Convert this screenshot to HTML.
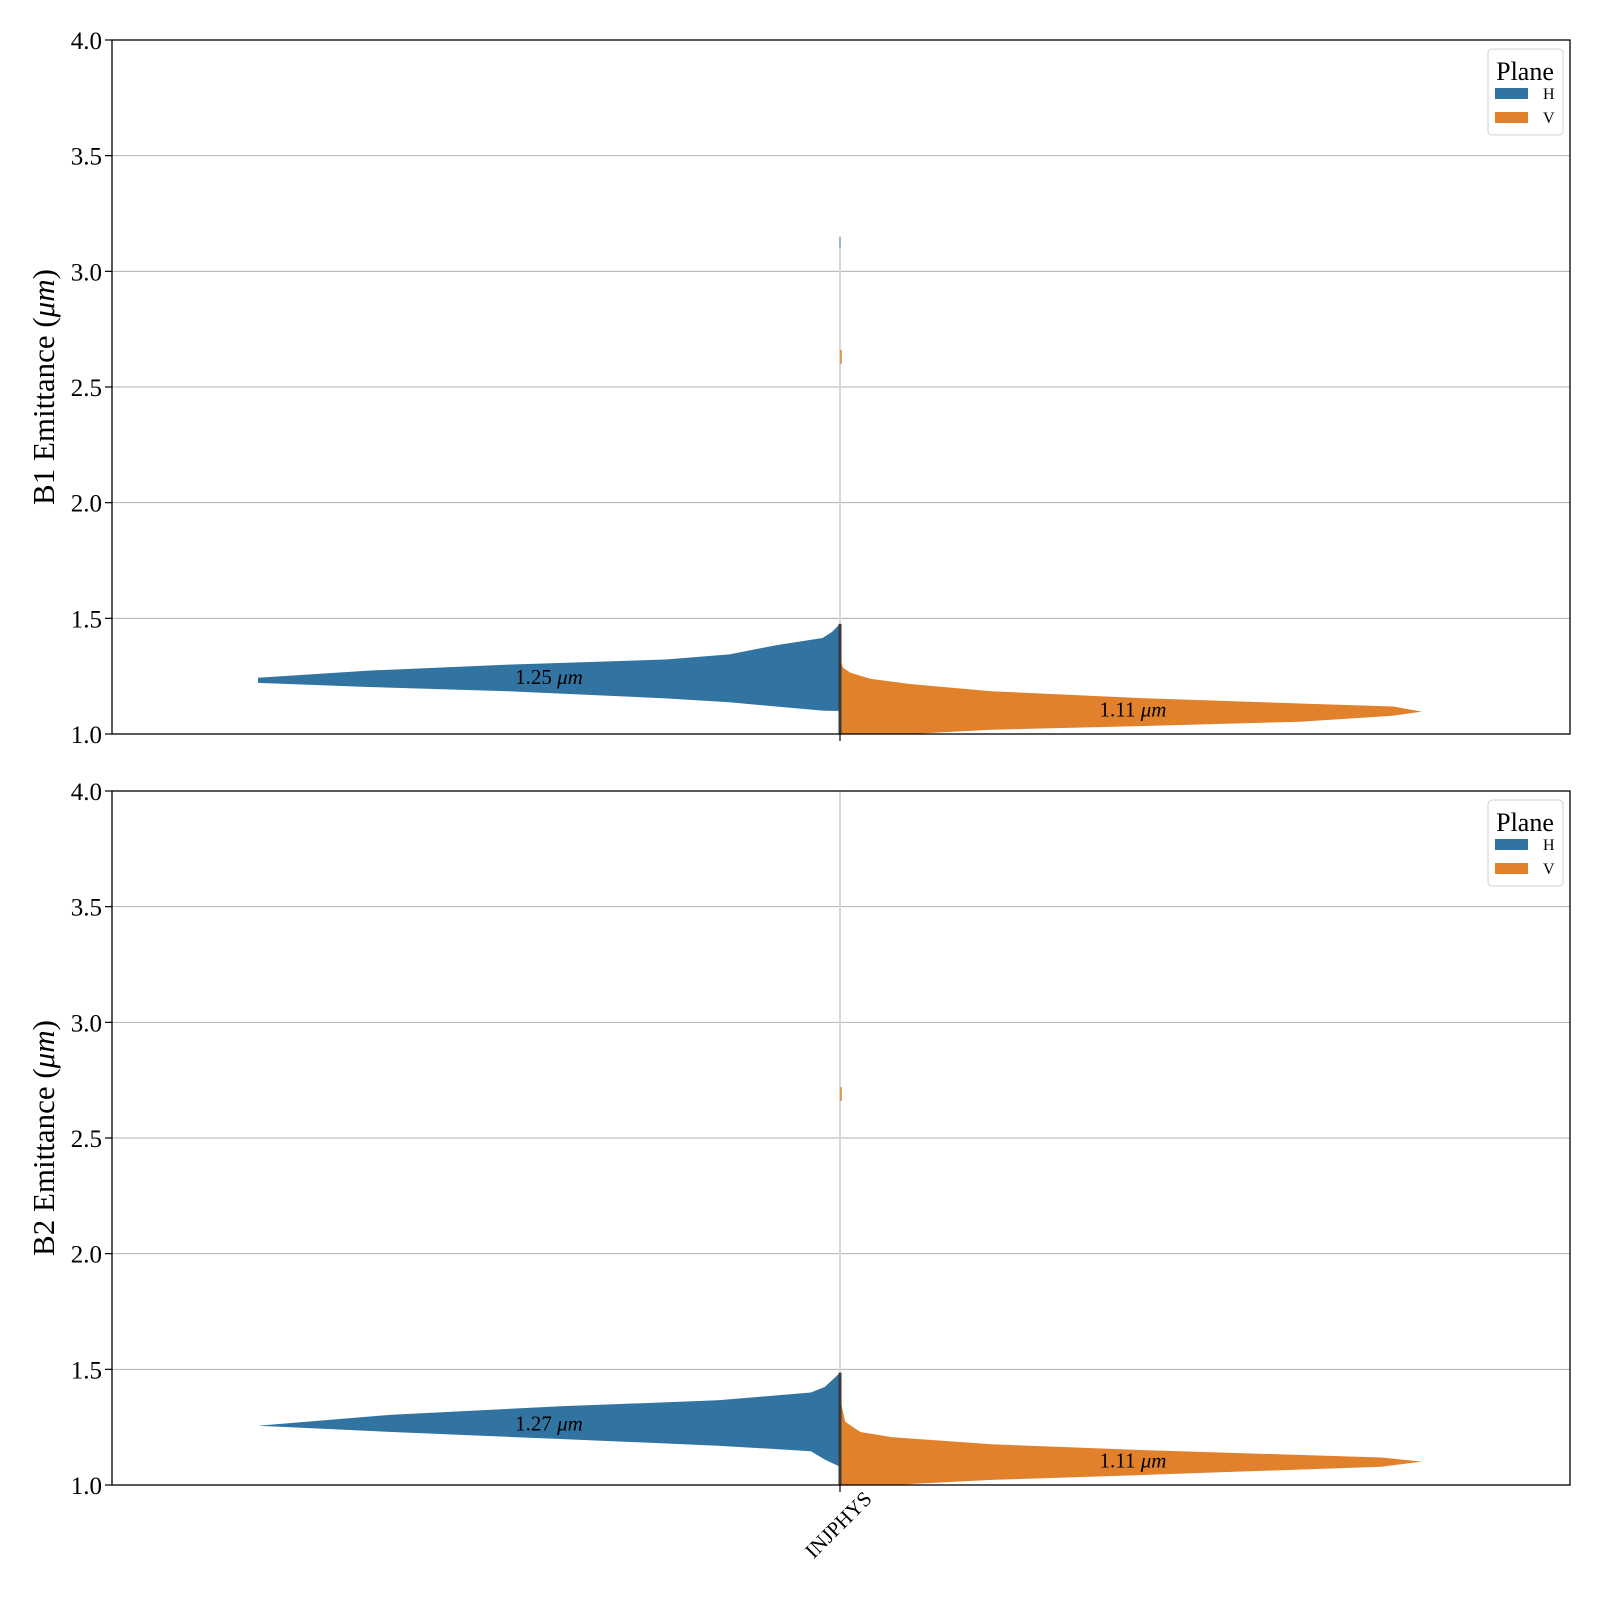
<!DOCTYPE html>
<html><head><meta charset="utf-8">
<style>
html,body{margin:0;padding:0;background:#fff;}
svg{display:block;font-family:"Liberation Serif","DejaVu Serif",serif;}
</style></head>
<body>
<svg id="chart" width="1600" height="1600" viewBox="0 0 1600 1600" xmlns="http://www.w3.org/2000/svg"></svg>
<script>
// ---- data ----
const yTicks = [1.0, 1.5, 2.0, 2.5, 3.0, 3.5, 4.0];
const categories = ["INJPHYS"];
const panelLabels = ["B1 Emittance", "B2 Emittance"];
const medianLabels = [["1.25", "1.11"], ["1.27", "1.11"]];
const medianValues = [[1.25, 1.11], [1.27, 1.11]];
const b1H_dens = [1.0, 0.81, 0.57, 0.30, 0.19, 0.11, 0.03, 0.014, 0.0];
const b1H_upper = [1.243, 1.274, 1.300, 1.322, 1.344, 1.384, 1.415, 1.441, 1.476];
const b1H_lower = [1.221, 1.203, 1.185, 1.154, 1.137, 1.119, 1.101, 1.10, 1.10];
const b1V_dens = [0.0, 0.005, 0.018, 0.053, 0.12, 0.26, 0.53, 0.79, 0.95, 1.0];
const b1V_upper = [1.33, 1.287, 1.265, 1.238, 1.216, 1.185, 1.154, 1.132, 1.119, 1.097];
const b1V_lower = [1.0, 1.0, 1.0, 1.0, 1.0, 1.018, 1.035, 1.053, 1.079, 1.097];
const b2H_dens = [1.0, 0.77, 0.48, 0.21, 0.05, 0.026, 0.0];
const b2H_upper = [1.256, 1.304, 1.340, 1.366, 1.40, 1.424, 1.485];
const b2H_lower = [1.256, 1.229, 1.199, 1.17, 1.146, 1.11, 1.079];
const b2V_dens = [0.0, 0.009, 0.035, 0.088, 0.26, 0.53, 0.93, 1.0];
const b2V_upper = [1.375, 1.273, 1.229, 1.207, 1.176, 1.150, 1.119, 1.101];
const b2V_lower = [1.0, 1.0, 1.0, 1.0, 1.022, 1.044, 1.079, 1.101];
const spikes = [[3.15, 2.63], [4.0, 2.69]];

const svg = document.getElementById('chart');
const NS = 'http://www.w3.org/2000/svg';
function mk(tag, attrs, parent){const e=document.createElementNS(NS,tag);for(const k in attrs)e.setAttribute(k,attrs[k]);(parent||svg).appendChild(e);return e;}

const X0 = 112, X1 = 1570, CX = 840, HALF = 582;
const panels = [{top:40,bottom:734},{top:791,bottom:1485}];
const yMin = 1.0, yMax = 4.0;
const BLUE = '#3274a1', ORANGE = '#e1812c';
const violins = [
  [[b1H_dens,b1H_upper,b1H_lower],[b1V_dens,b1V_upper,b1V_lower]],
  [[b2H_dens,b2H_upper,b2H_lower],[b2V_dens,b2V_upper,b2V_lower]]
];

panels.forEach((p, pi) => {
  const ys = v => p.bottom - (v - yMin) / (yMax - yMin) * (p.bottom - p.top);
  const g = mk('g', {});
  
  
  yTicks.forEach(t => {
    const y = ys(t);
    if (t > yMin && t < yMax) {
      const gl = mk('line', {x1:X0, x2:X1, y1:y, y2:y, stroke:'#b0b0b0', 'stroke-width':1}, g);
      
      
    }
    const tk = mk('line', {x1:X0-7, x2:X0, y1:y, y2:y, stroke:'#000', 'stroke-width':1.2}, g);
    
    
    const tl = mk('text', {x:X0-10, y:y+9, 'text-anchor':'end', 'font-size':25}, g);
    tl.textContent = t.toFixed(1);
    
    
  });
  const tail = mk('line', {x1:CX, x2:CX, y1:ys(spikes[pi][0]), y2:p.bottom, stroke:'#d8d8d8', 'stroke-width':2}, g);
  
  
  violins[pi].forEach((v, side) => {
    const [dens, up, lo] = v;
    const dir = side === 0 ? -1 : 1;
    let pts = [];
    for (let i=0;i<dens.length;i++) pts.push([CX + dir*dens[i]*HALF, ys(up[i])]);
    for (let i=dens.length-1;i>=0;i--) pts.push([CX + dir*dens[i]*HALF, ys(lo[i])]);
    const poly = mk('polygon', {points: pts.map(q=>q[0].toFixed(1)+','+q[1].toFixed(1)).join(' '), fill: side===0?BLUE:ORANGE}, g);
    
    
  });
  const blip = mk('line', {x1:CX+1, x2:CX+1, y1:ys(spikes[pi][1]+0.03), y2:ys(spikes[pi][1]-0.03), stroke:ORANGE, 'stroke-width':1.5}, g);
  
  
  if (pi===0){
    const bt = mk('line', {x1:CX, x2:CX, y1:ys(3.15), y2:ys(3.1), stroke:BLUE, 'stroke-width':1.2, 'stroke-opacity':0.6}, g);
    
    
  }
  const stick = mk('line', {x1:CX, x2:CX, y1:ys(violins[pi][0][1][violins[pi][0][1].length-1]), y2:p.bottom, stroke:'#3a3a3a', 'stroke-width':3}, g);
  
  
  const mh = mk('text', {x:549, y:ys(medianValues[pi][0]) + 8, 'text-anchor':'middle', 'font-size':21}, g);
  mh.innerHTML = medianLabels[pi][0] + ' <tspan font-style="italic">μm</tspan>';
  
  
  const mv = mk('text', {x:1133, y:ys(medianValues[pi][1]) + 8, 'text-anchor':'middle', 'font-size':21}, g);
  mv.innerHTML = medianLabels[pi][1] + ' <tspan font-style="italic">μm</tspan>';
  
  
  const fr = mk('rect', {x:X0, y:p.top, width:X1-X0, height:p.bottom-p.top, fill:'none', stroke:'#000', 'stroke-width':1.3}, g);
  
  
  const xt = mk('line', {x1:CX, x2:CX, y1:p.bottom, y2:p.bottom+7, stroke:'#000', 'stroke-width':1.2}, g);
  
  
  const yl = mk('text', {transform:`translate(54 ${(p.top+p.bottom)/2}) rotate(-90)`, 'text-anchor':'middle', 'font-size':31}, g);
  yl.innerHTML = panelLabels[pi] + ' (<tspan font-style="italic">μm</tspan>)';
  
  
  const lg = mk('g', {}, g);
  
  
  const lb = mk('rect', {x:1488, y:p.top+9, width:75, height:86, rx:4, fill:'#fff', 'fill-opacity':0.8, stroke:'#d0d0d0', 'stroke-width':1}, lg);
  
  
  const lt = mk('text', {x:1525, y:p.top+40, 'text-anchor':'middle', 'font-size':26}, lg);
  lt.textContent = 'Plane';
  
  
  [['H',BLUE],['V',ORANGE]].forEach((e,i)=>{
    const yy = p.top + 48 + i*24;
    const r = mk('rect', {x:1495, y:yy, width:33, height:11, fill:e[1]}, lg);
    
    
    const t = mk('text', {x:1543, y:yy+11, 'font-size':16}, lg);
    t.textContent = e[0];
    
    
  });
});
const xl = mk('text', {transform:'translate(873 1500) rotate(-45)', 'text-anchor':'end', 'font-size':21});
xl.textContent = categories[0];


</script>
</body></html>
